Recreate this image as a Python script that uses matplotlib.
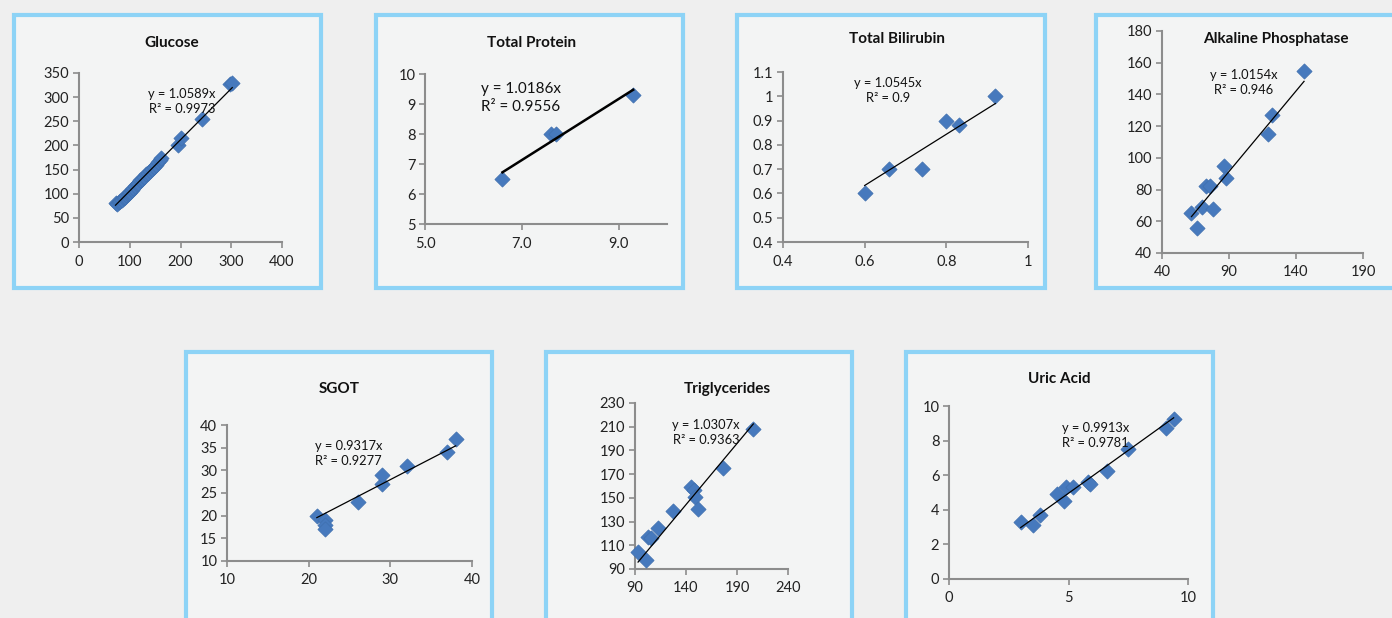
import matplotlib.pyplot as plt
from matplotlib.patches import Rectangle
import numpy as np

plt.rcParams['font.family'] = ['Lato', 'DejaVu Sans']

W, H = 1392, 618

# ---- data ----
glucose_x = [72, 75, 78, 80, 84, 88, 90, 93, 96, 98, 100, 104, 107, 110, 114, 117, 120,
             124, 128, 132, 136, 140, 144, 148, 152, 156, 160, 162, 195, 200, 242, 298, 302]
glucose_y = [80, 78, 82, 84, 87, 91, 94, 97, 100, 102, 104, 108, 112, 115, 120, 123, 128,
             130, 135, 140, 143, 148, 152, 156, 160, 165, 170, 175, 200, 215, 255, 328, 330]

protein_x = [6.6, 7.6, 7.7, 9.3]
protein_y = [6.5, 8.0, 8.0, 9.3]

bili_x = [0.6, 0.66, 0.74, 0.8, 0.83, 0.92]
bili_y = [0.6, 0.7, 0.7, 0.9, 0.88, 1.0]

alk_x = [62, 66, 70, 73, 76, 78, 86, 88, 119, 122, 146]
alk_y = [65, 56, 69, 82, 82, 68, 95, 87, 115, 127, 155]

sgot_x = [21, 22, 22, 22, 26, 29, 29, 32, 37, 38]
sgot_y = [20, 19, 18, 17, 23, 27, 29, 31, 34, 37]

trig_x = [93, 101, 103, 106, 113, 127, 145, 148, 149, 152, 176, 206]
trig_y = [104, 98, 117, 116, 125, 139, 159, 157, 151, 141, 175, 208]

uric_x = [3.0, 3.5, 3.8, 4.5, 4.8, 4.9, 5.2, 5.8, 5.9, 6.6, 7.5, 9.1, 9.4]
uric_y = [3.3, 3.1, 3.7, 4.9, 4.5, 5.3, 5.3, 5.6, 5.5, 6.25, 7.5, 8.75, 9.25]

slopes = [1.0589, 1.0186, 1.0545, 1.0154, 0.9317, 1.0307, 0.9913]
r2_text = ['0.9973', '0.9556', '0.9', '0.946', '0.9277', '0.9363', '0.9781']
titles = ['Glucose', 'Total Protein', 'Total Bilirubin', 'Alkaline Phosphatase',
          'SGOT', 'Triglycerides', 'Uric Acid']

# panel layout in pixels: (x0, x1, ytop, ybot) of plot area
areas = [(79, 282, 73, 242), (425, 667, 74, 224), (783, 1028, 72, 242),
         (1162, 1363, 31, 253), (227, 472, 425, 561), (635, 788, 403, 569),
         (949, 1188, 406, 579)]
limits = [((0, 400), (0, 350)), ((5, 10), (5, 10)), ((0.4, 1.0), (0.4, 1.1)),
          ((40, 190), (40, 180)), ((10, 40), (10, 40)), ((90, 240), (90, 230)),
          ((0, 10), (0, 10))]
xticks = [[0, 100, 200, 300, 400], [5, 7, 9], [0.4, 0.6, 0.8, 1.0], [40, 90, 140, 190],
          [10, 20, 30, 40], [90, 140, 190, 240], [0, 5, 10]]
xlabels = [['0', '100', '200', '300', '400'], ['5.0', '7.0', '9.0'],
           ['0.4', '0.6', '0.8', '1'], ['40', '90', '140', '190'],
           ['10', '20', '30', '40'], ['90', '140', '190', '240'], ['0', '5', '10']]
yticks = [list(range(0, 351, 50)), list(range(5, 11)),
          [0.4, 0.5, 0.6, 0.7, 0.8, 0.9, 1.0, 1.1], list(range(40, 181, 20)),
          list(range(10, 41, 5)), list(range(90, 231, 20)), list(range(0, 11, 2))]
ylabels = [None, None, ['0.4', '0.5', '0.6', '0.7', '0.8', '0.9', '1', '1.1'],
           None, None, None, None]

# panel frames (left, top, right, bottom) and title centres, pixels
frames = [(14, 15, 321, 288), (376, 15, 683, 288), (737, 15, 1045, 288),
          (1096, 15, 1400, 288), (186, 352, 492, 630), (546, 352, 852, 630),
          (906, 352, 1213, 630)]
title_pos = [(172, 43), (532, 43), (897, 39), (1276, 39), (339, 389), (727, 389), (1059, 379)]
# equation positions (data coords) and alignment
eq_pos = [(203, 290, 'center'), (6.16, 9.2, 'left'), (0.657, 1.024, 'center'),
          (101, 147.5, 'center'), (20.8, 33.7, 'left'), (159.6, 204.7, 'center'),
          (4.73, 8.32, 'left')]

series = [(glucose_x, glucose_y), (protein_x, protein_y), (bili_x, bili_y),
          (alk_x, alk_y), (sgot_x, sgot_y), (trig_x, trig_y), (uric_x, uric_y)]

fig = plt.figure(figsize=(W / 100, H / 100), dpi=100, facecolor='#efefef')

for i in range(7):
    l, t, r, b = frames[i]
    fig.patches.append(Rectangle((l / W, 1 - b / H), (r - l) / W, (b - t) / H,
                                 transform=fig.transFigure, facecolor='#f3f4f4',
                                 edgecolor='#8dd3f6', linewidth=3, zorder=-5))

for i in range(7):
    x0, x1, yt, yb = areas[i]
    ax = fig.add_axes([x0 / W, 1 - yb / H, (x1 - x0) / W, (yb - yt) / H])
    ax.patch.set_alpha(0)
    xs, ys = series[i]
    ax.scatter(xs, ys, marker='D', s=60, color='#4679bd', edgecolor='#3f6fae',
               linewidth=0.5, zorder=3, clip_on=False)
    lx = np.array([min(xs), max(xs)])
    ax.plot(lx, slopes[i] * lx, color='black', lw=1.8 if i == 1 else 0.9, zorder=4,
            clip_on=False)
    ax.set_xlim(*limits[i][0])
    ax.set_ylim(*limits[i][1])
    ax.set_xticks(xticks[i])
    ax.set_xticklabels(xlabels[i])
    ax.set_yticks(yticks[i])
    if ylabels[i]:
        ax.set_yticklabels(ylabels[i])
    for s in ['top', 'right']:
        ax.spines[s].set_visible(False)
    for s in ['left', 'bottom']:
        ax.spines[s].set_color('#8c8c8c')
        ax.spines[s].set_linewidth(1.5)
    ax.tick_params(direction='out', length=4, width=1.2, color='#8c8c8c',
                   labelsize=10.5, labelcolor='#222222', pad=3)
    ax.tick_params(axis='x', pad=5)
    ex, ey, ha = eq_pos[i]
    ax.text(ex, ey, 'y = %.4fx\nR² = %s' % (slopes[i], r2_text[i]), ha=ha, va='center',
            multialignment=ha, fontsize=11 if i == 1 else 9.3, color='#111111',
            linespacing=1.3, zorder=5)
    tx, ty = title_pos[i]
    fig.text(tx / W, 1 - ty / H, titles[i], ha='center', va='center', fontsize=11,
             fontweight='bold', color='#111111')

fig.savefig('out.png', dpi=100, facecolor=fig.get_facecolor())
